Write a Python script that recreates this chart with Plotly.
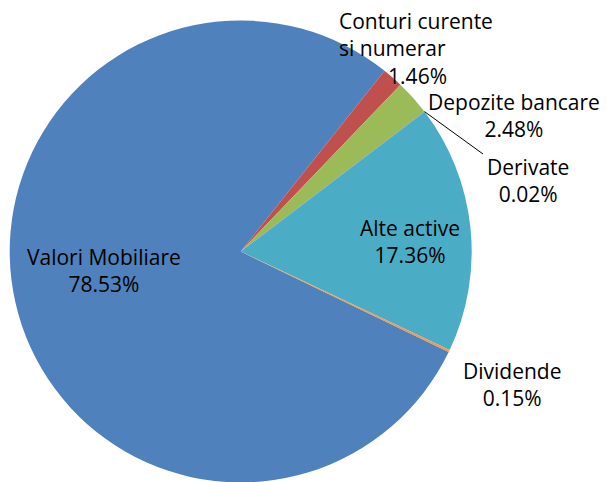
import math
import plotly.graph_objects as go

labels = ["Valori Mobiliare", "Conturi curente si numerar", "Depozite bancare",
          "Derivate", "Alte active", "Dividende"]
values = [78.53, 1.46, 2.48, 0.02, 17.36, 0.15]
colors = ["#4F81BD", "#C0504D", "#9BBB59", "#8064A2", "#4BACC6", "#F79646"]

# label line split (text lines before the percentage)
label_lines = [["Valori Mobiliare"], ["Conturi curente", "si numerar"], ["Depozite bancare"],
               ["Derivate"], ["Alte active"], ["Dividende"]]

W, H = 607, 482
OFF = 8  # page body margin offset
cx, R = 240.7 - OFF, 231.0
top = 20.5 - OFF
rotation = 115.8
FONT = "Open Sans"
FS = 21
NB = "\u00a0"

fig = go.Figure(go.Pie(
    labels=labels, values=values, sort=False, direction="clockwise",
    rotation=rotation,
    marker=dict(colors=colors, line=dict(width=0)),
    textinfo="none", hoverinfo="label+percent", showlegend=False,
    domain=dict(x=[(cx - R) / W, (cx + R) / W], y=[(H - top - 2 * R) / H, (H - top) / H]),
))

# label block placement in reference pixels: (x, y-center, anchor, pct indent)
placement = {
    0: (104, 270, "center", 0),
    1: (338, 48, "left", 9),
    2: (514, 116, "center", 0),
    3: (528, 180, "center", 0),
    4: (410, 241, "center", 0),
    5: (512, 384, "center", 0),
}

annotations = []
for i, (lines, v) in enumerate(zip(label_lines, values)):
    px, py, anc, indent = placement[i]
    text = "<br>".join(lines + [NB * indent + f"{v:.2f}%"])
    annotations.append(dict(
        text=text, x=(px - OFF) / W, y=1 - (py - OFF) / H, xref="paper", yref="paper",
        xanchor=anc, yanchor="middle", align=anc, showarrow=False, borderpad=0,
        font=dict(family=FONT, size=FS, color="#000000")))

# leader line for Derivate, starting at the slice's mid-angle on the rim
tot = sum(values)
start = 90 - rotation  # math degrees
acc = sum(values[:3])
mid = start - 360 * (acc + values[3] / 2) / tot
cy = top + R
x0 = cx + R * math.cos(math.radians(mid))
y0 = cy - R * math.sin(math.radians(mid))
fig.add_shape(type="line", xref="paper", yref="paper",
              x0=x0 / W, y0=1 - y0 / H, x1=(483 - OFF) / W, y1=1 - (154 - OFF) / H,
              line=dict(color="#000000", width=1))

fig.update_layout(
    width=W, height=H, margin=dict(l=0, r=0, t=0, b=0),
    paper_bgcolor="white", plot_bgcolor="white",
    annotations=annotations,
)

fig.write_html("out.html")
